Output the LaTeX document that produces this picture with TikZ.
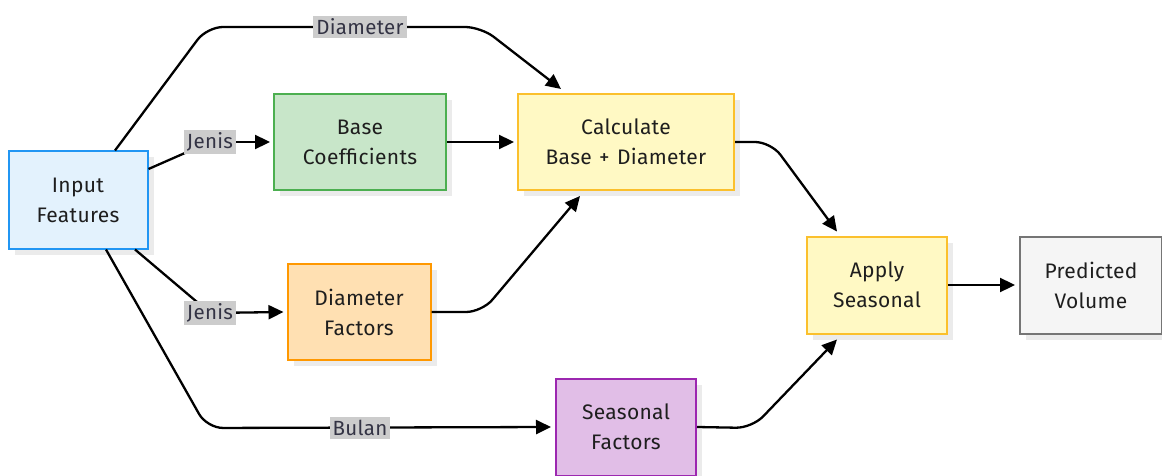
\documentclass[tikz,border=0pt]{standalone}
\usepackage{fontspec}
\setmainfont{Fira Sans}[LetterSpace=1.5,WordSpace=1.25]
\usetikzlibrary{arrows.meta,shadows}
\definecolor{inFill}{HTML}{E3F2FD}\definecolor{inDraw}{HTML}{2196F3}
\definecolor{gFill}{HTML}{C8E6C9}\definecolor{gDraw}{HTML}{4CAF50}
\definecolor{yFill}{HTML}{FFF9C4}\definecolor{yDraw}{HTML}{FBC02D}
\definecolor{oFill}{HTML}{FFE0B2}\definecolor{oDraw}{HTML}{FF9800}
\definecolor{pFill}{HTML}{E1BEE7}\definecolor{pDraw}{HTML}{9C27B0}
\definecolor{grFill}{HTML}{F5F5F5}\definecolor{grDraw}{HTML}{757575}
\definecolor{lblFill}{HTML}{CCCCCC}\definecolor{lblText}{HTML}{333344}
\definecolor{txt}{HTML}{1E1E1E}
\tikzset{
  box/.style={draw, line width=2pt, align=center, text=txt,
    font=\fontsize{21}{30}\selectfont, inner sep=0pt,
    drop shadow={shadow xshift=6pt, shadow yshift=-6pt, fill=black!8, opacity=1}},
  edge/.style={line width=2.3pt, rounded corners=16pt, -{Triangle[length=15pt,width=14pt]}},
  plain/.style={line width=2.3pt, rounded corners=16pt},
  lbl/.style={fill=lblFill, text=lblText, inner sep=3pt, font=\fontsize{20.5}{22}\selectfont}
}
\begin{document}
\begin{tikzpicture}[x=1pt,y=-1pt]
\useasboundingbox (0,0) rectangle (1162,476);
\node[box, fill=inFill, draw=inDraw, minimum width=139pt, minimum height=97pt] (in) at (78,200) {Input\\Features};
\node[box, fill=gFill, draw=gDraw, minimum width=172pt, minimum height=96pt] (base) at (360,142) {Base\\Coefficients};
\node[box, fill=yFill, draw=yDraw, minimum width=216pt, minimum height=96pt] (calc) at (626,142) {Calculate\\Base + Diameter};
\node[box, fill=oFill, draw=oDraw, minimum width=143pt, minimum height=96pt] (df) at (359,312) {Diameter\\Factors};
\node[box, fill=pFill, draw=pDraw, minimum width=140pt, minimum height=97pt] (sf) at (626,427) {Seasonal\\Factors};
\node[box, fill=yFill, draw=yDraw, minimum width=140pt, minimum height=97pt] (app) at (877,285) {Apply\\Seasonal};
\node[box, fill=grFill, draw=grDraw, minimum width=142pt, minimum height=97pt] (pred) at (1091,285) {Predicted\\Volume};

\coordinate (ldia) at (360,27);
\coordinate (lj1) at (210,142);
\coordinate (lj2) at (210,313);
\coordinate (lbul) at (360,428);

\draw[edge] ([xshift=37pt]in.north) -- (207,27) -- (481,27) -- ([shift={(-65,-4)}]calc.north);
\draw[plain] ([yshift=31pt]in.east) -- (lj1);
\draw[edge] (lj1) -- ([xshift=-3pt]base.west);
\draw[plain] ([xshift=57pt]in.south) -- (lj2);
\draw[edge] (lj2) -- ([xshift=-3pt]df.west);
\draw[edge] ([xshift=28pt]in.south) -- (207,428) -- ([xshift=-4pt]sf.west);
\draw[edge] (base.east) -- ([xshift=-3pt]calc.west);
\draw[edge] (df.east) -- (482,312) -- ([shift={(-46,5)}]calc.south);
\draw[edge] (calc.east) -- (771,142) -- ([shift={(-40,-4)}]app.north);
\draw[edge] (sf.east) -- (752,428) -- ([shift={(-40,5)}]app.south);
\draw[edge] (app.east) -- ([xshift=-4pt]pred.west);

\node[lbl] (tdia) at (ldia) {Diameter};
\node[lbl] (tj1) at (lj1) {Jenis};
\node[lbl] (tj2) at (lj2) {Jenis};
\node[lbl] (tbul) at (lbul) {Bulan};
\end{tikzpicture}
\end{document}
